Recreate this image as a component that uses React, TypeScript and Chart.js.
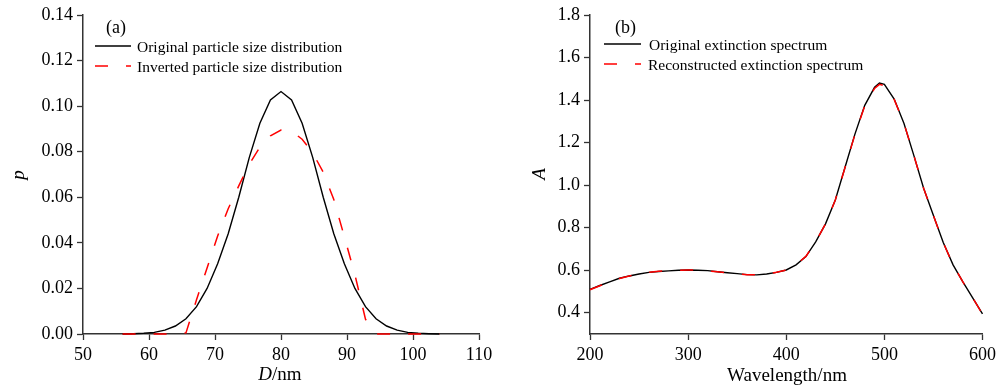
import React, { useEffect, useRef } from "react";
import { Chart, registerables } from "chart.js";

Chart.register(...registerables);

const SERIF = "'Liberation Serif', 'Times New Roman', serif";

// ---- Panel (a): particle size distribution ----
const D_NM = [
  56.0, 57.6, 59.2, 60.8, 62.4, 64.0, 65.6, 67.2, 68.8, 70.4, 72.0, 73.6, 75.2, 76.8, 78.4, 80.0,
  81.6, 83.2, 84.8, 86.4, 88.0, 89.6, 91.2, 92.8, 94.4, 96.0, 97.6, 99.2, 100.8, 102.4, 104.0,
];
const P_ORIGINAL = [
  0.0, 0.0001, 0.0003, 0.0007, 0.0017, 0.0035, 0.0067, 0.012, 0.02, 0.0308, 0.044, 0.06, 0.0775,
  0.0925, 0.1027, 0.1064, 0.1027, 0.0925, 0.0775, 0.06, 0.044, 0.0308, 0.02, 0.012, 0.0067, 0.0035,
  0.0017, 0.0007, 0.0003, 0.0001, 0.0,
];
const P_INVERTED = [
  0, 0, 0, 0, 0, 0, 0.0005, 0.015, 0.029, 0.043, 0.055, 0.065, 0.0745, 0.082, 0.087, 0.0895, 0.089,
  0.0855, 0.0795, 0.071, 0.059, 0.0427, 0.026, 0.0065, 0, 0, 0, 0, 0, 0, 0,
];
const TICKS_D = [50, 60, 70, 80, 90, 100, 110];
const TICKS_P = [0, 0.02, 0.04, 0.06, 0.08, 0.1, 0.12, 0.14];

// ---- Panel (b): extinction spectrum ----
const WAVELENGTH = [
  200, 210, 220, 230, 240, 250, 260, 270, 280, 290, 300, 310, 320, 330, 340, 350, 360, 370, 380, 390,
  400, 410, 420, 430, 440, 450, 460, 470, 480, 490, 495, 500, 510, 520, 530, 540, 550, 560, 570, 580,
  590, 600,
];
const A_ORIGINAL = [
  0.51, 0.528, 0.545, 0.562, 0.573, 0.582, 0.59, 0.594, 0.597, 0.6, 0.601, 0.6, 0.598, 0.593, 0.588,
  0.584, 0.579, 0.578, 0.582, 0.59, 0.601, 0.625, 0.664, 0.733, 0.818, 0.93, 1.085, 1.24, 1.375,
  1.46, 1.48, 1.474, 1.405, 1.29, 1.14, 0.985, 0.857, 0.73, 0.625, 0.545, 0.47, 0.395,
];
const A_RECON = [
  0.508, 0.527, 0.545, 0.561, 0.573, 0.582, 0.59, 0.595, 0.598, 0.6, 0.601, 0.6, 0.597, 0.593, 0.588,
  0.583, 0.579, 0.578, 0.582, 0.59, 0.601, 0.626, 0.665, 0.733, 0.818, 0.93, 1.084, 1.238, 1.372,
  1.455, 1.474, 1.468, 1.403, 1.29, 1.14, 0.985, 0.857, 0.73, 0.625, 0.545, 0.47, 0.393,
];
const TICKS_WL = [200, 300, 400, 500, 600];
const TICKS_A = [0.4, 0.6, 0.8, 1.0, 1.2, 1.4, 1.6, 1.8];

const W = 500;
const H = 389;

const annotPlugin = {
  id: "annot",
  afterDraw(chart: any, _args: any, opts: any) {
    const ctx = chart.ctx as CanvasRenderingContext2D;
    ctx.save();
    ctx.fillStyle = "#000";
    ctx.textAlign = "left";
    ctx.textBaseline = "alphabetic";
    // panel label
    ctx.font = `18px ${SERIF}`;
    ctx.fillText(opts.panel, opts.panelX, opts.panelY);
    // legend
    const ds = chart.data.datasets;
    opts.legend.forEach((row: any) => {
      const d = ds[row.index];
      ctx.beginPath();
      ctx.setLineDash(d.borderDash || []);
      ctx.strokeStyle = d.borderColor;
      ctx.lineWidth = d.borderWidth;
      ctx.moveTo(row.x0, row.y);
      ctx.lineTo(row.x1, row.y);
      ctx.stroke();
      ctx.setLineDash([]);
      ctx.fillStyle = "#000";
      ctx.font = `15.5px ${SERIF}`;
      ctx.fillText(d.label, row.tx, row.y + 6);
    });
    // x title (parts with own style)
    const parts = opts.xTitle as { text: string; italic: boolean }[];
    let total = 0;
    parts.forEach((p) => {
      ctx.font = `${p.italic ? "italic " : ""}19px ${SERIF}`;
      total += ctx.measureText(p.text).width;
    });
    let x = opts.xTitleX - total / 2;
    parts.forEach((p) => {
      ctx.font = `${p.italic ? "italic " : ""}19px ${SERIF}`;
      ctx.fillText(p.text, x, opts.xTitleY);
      x += ctx.measureText(p.text).width;
    });
    // y title
    ctx.translate(opts.yTitleX, opts.yTitleY);
    ctx.rotate(-Math.PI / 2);
    ctx.textAlign = "center";
    ctx.textBaseline = "middle";
    ctx.font = `italic 19px ${SERIF}`;
    ctx.fillText(opts.yTitle, 0, 0);
    ctx.restore();
  },
};

function axis(min: number, max: number, ticks: number[], fmt: (v: number) => string, fit: (s: any) => void) {
  return {
    type: "linear",
    min,
    max,
    afterBuildTicks: (s: any) => {
      s.ticks = ticks.map((v) => ({ value: v }));
    },
    afterFit: fit,
    ticks: {
      font: { family: SERIF, size: 18 },
      color: "#000",
      padding: 4,
      autoSkip: false,
      maxRotation: 0,
      callback: (v: any) => fmt(Number(v)),
    },
    grid: {
      display: true,
      drawOnChartArea: false,
      drawTicks: true,
      tickLength: 6,
      tickWidth: 1.3,
      color: "#333",
    },
    border: { display: true, color: "#333", width: 1.5 },
  };
}

function buildConfig(p: any) {
  return {
    type: "line",
    data: {
      datasets: [
        {
          label: p.labels[1],
          data: p.xs.map((x: number, i: number) => ({ x, y: p.y2[i] })),
          borderColor: "#ff0000",
          borderWidth: 1.5,
          borderDash: [13, 18],
          pointRadius: 0,
          tension: 0,
          fill: false,
          order: 0,
          clip: 4,
        },
        {
          label: p.labels[0],
          data: p.xs.map((x: number, i: number) => ({ x, y: p.y1[i] })),
          borderColor: "#000000",
          borderWidth: 1.4,
          pointRadius: 0,
          tension: 0,
          fill: false,
          order: 1,
          clip: 4,
        },
      ],
    },
    options: {
      responsive: false,
      animation: false,
      devicePixelRatio: 1,
      layout: { padding: { left: 0, top: p.area.top, right: W - p.area.right, bottom: 0 } },
      plugins: {
        legend: { display: false },
        tooltip: { enabled: false },
        annot: p.annot,
      },
      scales: {
        x: axis(p.xMin, p.xMax, p.xTicks, (v) => String(v), (s: any) => {
          s.height = H - p.area.bottom;
        }),
        y: axis(p.yMin, p.yMax, p.yTicks, p.yFmt, (s: any) => {
          s.width = p.area.left;
        }),
      },
    },
    plugins: [annotPlugin],
  };
}

const PANEL_A = {
  xs: D_NM,
  y1: P_ORIGINAL,
  y2: P_INVERTED,
  labels: ["Original particle size distribution", "Inverted particle size distribution"],
  area: { left: 83, top: 15, right: 479, bottom: 334 },
  xMin: 50,
  xMax: 110,
  xTicks: TICKS_D,
  yMin: 0,
  yMax: 0.14,
  yTicks: TICKS_P,
  yFmt: (v: number) => v.toFixed(2),
  annot: {
    panel: "(a)",
    panelX: 106,
    panelY: 33,
    legend: [
      { index: 1, x0: 95, x1: 131, y: 46, tx: 137 },
      { index: 0, x0: 95, x1: 131, y: 66, tx: 137 },
    ],
    xTitle: [
      { text: "D", italic: true },
      { text: "/nm", italic: false },
    ],
    xTitleX: 280,
    xTitleY: 380,
    yTitle: "p",
    yTitleX: 19,
    yTitleY: 175,
  },
};

const PANEL_B = {
  xs: WAVELENGTH,
  y1: A_ORIGINAL,
  y2: A_RECON,
  labels: ["Original extinction spectrum", "Reconstructed extinction spectrum"],
  area: { left: 90, top: 15, right: 484, bottom: 334 },
  xMin: 200,
  xMax: 600,
  xTicks: TICKS_WL,
  yMin: 0.3,
  yMax: 1.8,
  yTicks: TICKS_A,
  yFmt: (v: number) => v.toFixed(1),
  annot: {
    panel: "(b)",
    panelX: 115,
    panelY: 33,
    legend: [
      { index: 1, x0: 104, x1: 141, y: 44, tx: 149 },
      { index: 0, x0: 104, x1: 141, y: 64, tx: 148 },
    ],
    xTitle: [{ text: "Wavelength/nm", italic: false }],
    xTitleX: 287,
    xTitleY: 381,
    yTitle: "A",
    yTitleX: 40,
    yTitleY: 174,
  },
};

function Panel({ spec, left }: { spec: any; left: number }) {
  const ref = useRef<HTMLCanvasElement | null>(null);
  useEffect(() => {
    if (!ref.current) return;
    const chart = new Chart(ref.current, buildConfig(spec) as any);
    return () => chart.destroy();
  }, [spec]);
  return (
    <canvas
      ref={ref}
      width={W}
      height={H}
      style={{ position: "absolute", left, top: 0, width: W, height: H }}
    />
  );
}

export default function App() {
  return (
    <div
      style={{
        position: "fixed",
        left: 0,
        top: 0,
        width: 1000,
        height: 389,
        background: "#fff",
        overflow: "hidden",
      }}
    >
      <Panel spec={PANEL_A} left={0} />
      <Panel spec={PANEL_B} left={500} />
    </div>
  );
}
